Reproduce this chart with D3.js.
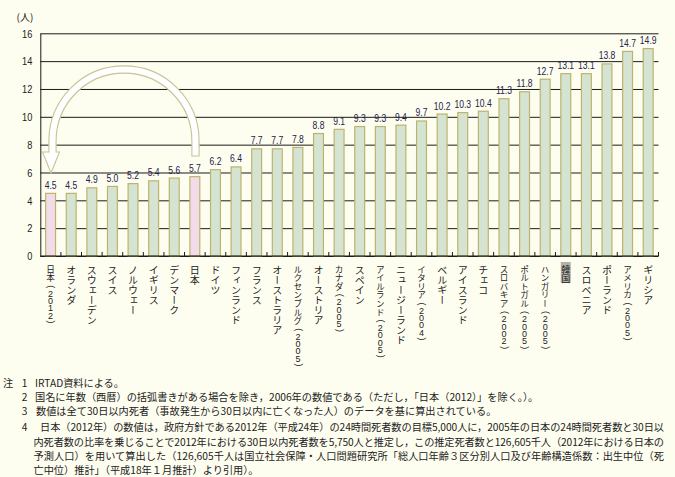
<!DOCTYPE html>
<html><head><meta charset="utf-8">
<script src="https://cdn.jsdelivr.net/npm/d3@7"></script>
<style>
html,body{margin:0;padding:0;background:#fefef0;}
svg{display:block;}
</style></head><body>
<svg id="c" width="675" height="477"></svg>
<script>
const countries = ["日本","オランダ","スウェーデン","スイス","ノルウェー","イギリス","デンマーク","日本","ドイツ","フィンランド","フランス","オーストラリア","ルクセンブルグ","オーストリア","カナダ","スペイン","アイルランド","ニュージーランド","イタリア","ベルギー","アイスランド","チェコ","スロバキア","ポルトガル","ハンガリー","韓国","スロベニア","ポーランド","アメリカ","ギリシア"];
const years = ["2012","","","","","","","","","","","","2005","","2005","","2005","","2004","","","","2002","2005","2005","","","","2005",""];
const values = [4.5,4.5,4.9,5.0,5.2,5.4,5.6,5.7,6.2,6.4,7.7,7.7,7.8,8.8,9.1,9.3,9.3,9.4,9.7,10.2,10.3,10.4,11.3,11.8,12.7,13.1,13.1,13.8,14.7,14.9];
const yTicks = [0,2,4,6,8,10,12,14,16];
const unitLabel = "(人)";
const noteNums = ["1","2","3","4","","",""];
const noteLines = [
 "IRTAD資料による。",
 "国名に年数（西暦）の括弧書きがある場合を除き，2006年の数値である（ただし，「日本（2012）」を除く。）。",
 "数値は全て30日以内死者（事故発生から30日以内に亡くなった人）のデータを基に算出されている。",
 "日本（2012年）の数値は，政府方針である2012年（平成24年）の24時間死者数の目標5,000人に，2005年の日本の24時間死者数と30日以",
 "内死者数の比率を乗じることで2012年における30日以内死者数を5,750人と推定し，この推定死者数と126,605千人（2012年における日本の",
 "予測人口）を用いて算出した（126,605千人は国立社会保障・人口問題研究所「総人口年齢３区分別人口及び年齢構造係数：出生中位（死",
 "亡中位）推計」（平成18年１月推計）より引用）。"
];

const svg = d3.select("#c");
const W = 675, H = 477;
svg.append("rect").attr("width",W).attr("height",H).attr("fill","#fefef0");

const x0 = 40.3, x1 = 658.5, yTop = 33.3, yBot = 256;
const x = d3.scaleBand().domain(d3.range(countries.length)).range([x0,x1]).paddingInner(0.52).paddingOuter(0.26);
const y = d3.scaleLinear().domain([0,16]).range([yBot,yTop]);
const step = (x1-x0)/countries.length;

const numFont = "'Liberation Sans',Arial,sans-serif";
const jpFont = "'Noto Sans CJK JP',sans-serif";

// y axis with gridlines
const ya = svg.append("g").attr("transform",`translate(${x0},0)`)
  .call(d3.axisLeft(y).tickValues(yTicks).tickSize(-(x1-x0)).tickSizeOuter(0).tickPadding(8));
ya.select(".domain").attr("stroke","#1a1a1a").attr("stroke-width",1);
ya.selectAll(".tick line").attr("stroke","#1a1a1a").attr("stroke-width",1);
ya.selectAll(".tick text").attr("font-family",numFont).attr("font-size",11).attr("fill","#222")
  .attr("x",null).attr("dy",null).attr("dominant-baseline","central")
  .attr("transform","translate(-8,0) scale(0.84,1)");

// unit label
svg.append("text").attr("x",25).attr("y",21).attr("text-anchor","middle")
  .attr("font-family",jpFont).attr("font-size",10).attr("fill","#222").text(unitLabel);

// arrow (white, outlined)
(function(){
  const cx=124, cy=141, r=71.5, w=3.6;
  const ro=r+w, ri=r-w;
  const p = `M${cx+ro},156 L${cx+ro},${cy} A${ro},${ro} 0 0 0 ${cx-ro},${cy} L${cx-ro},152 L42.5,152 L51,173 L59.5,152 L${cx-ri},152 L${cx-ri},${cy} A${ri},${ri} 0 0 1 ${cx+ri},${cy} L${cx+ri},156 Z`;
  svg.append("path").attr("d",p).attr("fill","#ffffff").attr("stroke","#c9c396").attr("stroke-width",1.1).attr("stroke-linejoin","miter");
})();

// bars
svg.append("g").selectAll("rect").data(values).join("rect")
  .attr("x",(d,i)=>x(i)).attr("width",x.bandwidth())
  .attr("y",d=>y(d)).attr("height",d=>y(0)-y(d))
  .attr("fill",(d,i)=>countries[i]==="日本"?"#f3dcea":"#d5e4d2")
  .attr("stroke","#bcb46c").attr("stroke-width",1.2);

// bottom axis line + boundary ticks
svg.append("line").attr("x1",x0).attr("x2",x1).attr("y1",yBot).attr("y2",yBot).attr("stroke","#1a1a1a").attr("stroke-width",1.2);
svg.append("g").selectAll("line").data(d3.range(1,countries.length+1)).join("line")
  .attr("x1",i=>x0+i*step).attr("x2",i=>x0+i*step).attr("y1",yBot).attr("y2",yBot-4)
  .attr("stroke","#1a1a1a").attr("stroke-width",1);

// value labels (condensed)
svg.append("g").selectAll("text").data(values).join("text")
  .attr("transform",(d,i)=>`translate(${x(i)+x.bandwidth()/2},${y(d)-4.5}) scale(0.78,1)`)
  .attr("text-anchor","middle").attr("font-family",numFont).attr("font-size",11)
  .attr("fill","#22224a").text(d=>d.toFixed(1));

// category labels (vertical)
const cg = svg.append("g");
const labTop = 265;
countries.forEach((name,i)=>{
  const cxp = x(i)+x.bandwidth()/2;
  const fs = years[i] ? 8.6 : (name==="韓国" ? 9 : 10);
  if (name==="韓国") {
    cg.append("rect").attr("x",cxp-5).attr("y",262).attr("width",10).attr("height",21).attr("fill","#b2b2a8");
  }
  cg.append("text").attr("x",cxp).attr("y",labTop)
    .style("writing-mode","vertical-rl").attr("font-family",jpFont).attr("font-size",fs)
    .attr("fill","#222").text(name);
  if (years[i]) {
    // year block "(2005)" as one text element: digits upright, parentheses rotated
    const chars = ["("].concat(years[i].split("")).concat([")"]);
    let yy = labTop + name.length*fs + 1.5;
    const xs = [], ys = [], rs = [];
    const fsY = 9;
    chars.forEach((c,k)=>{
      if (c==="(" || c===")") {
        // rotated 90deg: glyph spans x in [-desc, asc], y in [0, adv]
        xs.push((cxp - (0.73-0.21)*fsY/2).toFixed(2));
        ys.push((yy + 1.5).toFixed(2));
        rs.push(90);
        yy += 6;
      } else {
        xs.push((cxp - 0.556*fsY/2).toFixed(2));
        ys.push((yy + 3.75 + 0.358*fsY).toFixed(2));
        rs.push(0);
        yy += 7.3;
      }
    });
    cg.append("text").attr("x",xs.join(" ")).attr("y",ys.join(" ")).attr("rotate",rs.join(" "))
      .attr("font-family",numFont).attr("font-size",fsY).attr("fill","#222").text(chars.join(""));
  }
});

// notes
const noteBase = [386.6,400.6,415,431,445.6,460,474];
const noteStart = [35,35,36,40,33.5,33.5,33.5];
const noteEnd = [null,null,null,664,664,664,null];
const ng = svg.append("g").attr("font-family",jpFont).attr("font-size",10.2).attr("fill","#222");
ng.append("text").attr("x",3).attr("y",noteBase[0]).text("注");
noteLines.forEach((ln,i)=>{
  if (noteNums[i]) ng.append("text").attr("x",24.7).attr("y",noteBase[i]).attr("text-anchor","middle").text(noteNums[i]);
  const t = ng.append("text").attr("x",noteStart[i]).attr("y",noteBase[i]).text(ln);
  if (noteEnd[i]) t.attr("textLength",noteEnd[i]-noteStart[i]).attr("lengthAdjust","spacing");
});
</script>
</body></html>
